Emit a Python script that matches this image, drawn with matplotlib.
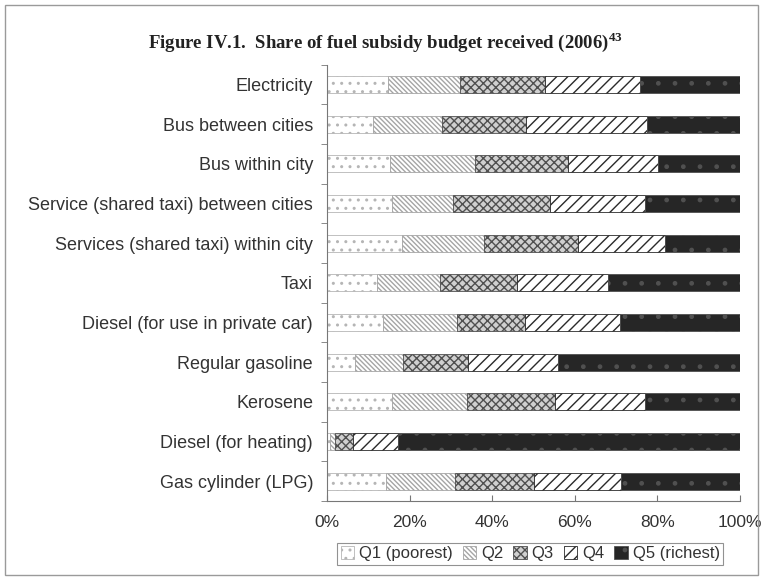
import numpy as np
import matplotlib.pyplot as plt
from matplotlib.patches import Rectangle

# categories, top to bottom
categories = [
    "Electricity",
    "Bus between cities",
    "Bus within city",
    "Service (shared taxi) between cities",
    "Services (shared taxi) within city",
    "Taxi",
    "Diesel (for use in private car)",
    "Regular gasoline",
    "Kerosene",
    "Diesel (for heating)",
    "Gas cylinder (LPG)",
]

# share of subsidy (%) per quintile
q1 = [14.8, 11.2, 15.3, 15.7, 18.1, 12.0, 13.6, 6.8, 15.7, 0.8, 14.4]
q2 = [17.4, 16.6, 20.5, 14.9, 19.8, 15.4, 17.8, 11.7, 18.1, 1.2, 16.6]
q3 = [20.6, 20.5, 22.6, 23.4, 22.9, 18.5, 16.5, 15.7, 21.4, 4.3, 19.0]
q4 = [23.0, 29.1, 21.8, 23.0, 21.0, 22.2, 23.0, 21.8, 21.8, 10.9, 21.3]
q5 = [24.2, 22.6, 19.8, 23.0, 18.2, 31.9, 29.1, 44.0, 23.0, 82.8, 28.7]

series_names = ["Q1 (poorest)", "Q2", "Q3", "Q4", "Q5 (richest)"]

plt.rcParams['font.family'] = ['Liberation Sans', 'DejaVu Sans']
plt.rcParams['hatch.linewidth'] = 1.0
plt.rcParams['mathtext.fontset'] = 'custom'
plt.rcParams['mathtext.bf'] = 'Liberation Serif:bold'

fig = plt.figure(figsize=(7.64, 5.8), dpi=100)
ax = fig.add_axes([0.428, 0.1362, 0.5406, 0.752])

styles = [
    dict(facecolor='white', edgecolor='#b5b5b5', hatch='..'),
    dict(facecolor='white', edgecolor='#a5a5a5', hatch='\\\\\\\\\\\\\\'),
    dict(facecolor='#d0d0d0', edgecolor='#505050', hatch='xxxx'),
    dict(facecolor='white', edgecolor='#2a2a2a', hatch='///'),
    dict(facecolor='#262626', edgecolor='#505050', hatch='.'),
]

y = np.arange(len(categories))
left = np.zeros(len(categories))
for vals, name, st in zip([q1, q2, q3, q4, q5], series_names, styles):
    ax.barh(y, vals, left=left, height=0.43, label=name, linewidth=0.6, **st)
    left += np.array(vals)

ax.set_ylim(len(categories) - 0.5, -0.5)
ax.set_xlim(0, 100)
ax.set_yticks(y)
ax.set_yticklabels(categories, fontsize=13, color='#333333')
ax.set_yticks(np.arange(len(categories) + 1) - 0.5, minor=True)
ax.tick_params(axis='y', which='major', length=0, pad=10)
ax.tick_params(axis='y', which='minor', length=4, color='#777777', direction='out')
ax.set_xticks([0, 20, 40, 60, 80, 100])
ax.set_xticklabels(['0%', '20%', '40%', '60%', '80%', '100%'], fontsize=12.5, color='#333333')
ax.tick_params(axis='x', length=4, color='#777777', direction='in', pad=10)

for s in ['top', 'right']:
    ax.spines[s].set_visible(False)
for s in ['left', 'bottom']:
    ax.spines[s].set_color('#777777')
    ax.spines[s].set_linewidth(0.8)

fig.text(0.505, 0.928, r"Figure IV.1.  Share of fuel subsidy budget received (2006)$^{\mathbf{43}}$",
         ha='center', va='center', fontsize=13.5, fontweight='bold',
         family='Liberation Serif', color='#222222')

leg = ax.legend(loc='center', bbox_to_anchor=(0.694, 0.045), bbox_transform=fig.transFigure,
                ncol=5, fontsize=12, frameon=True, fancybox=False, edgecolor='#777777',
                handlelength=0.8, handleheight=0.8, handletextpad=0.3, columnspacing=0.6,
                borderpad=0.2, borderaxespad=0)
leg.get_frame().set_linewidth(0.8)
for t in leg.get_texts():
    t.set_color('#333333')

fig.patches.append(Rectangle((0.007, 0.008), 0.985, 0.984, transform=fig.transFigure,
                             fill=False, edgecolor='#9a9a9a', linewidth=1.0))

plt.savefig('out.png', dpi=100)
